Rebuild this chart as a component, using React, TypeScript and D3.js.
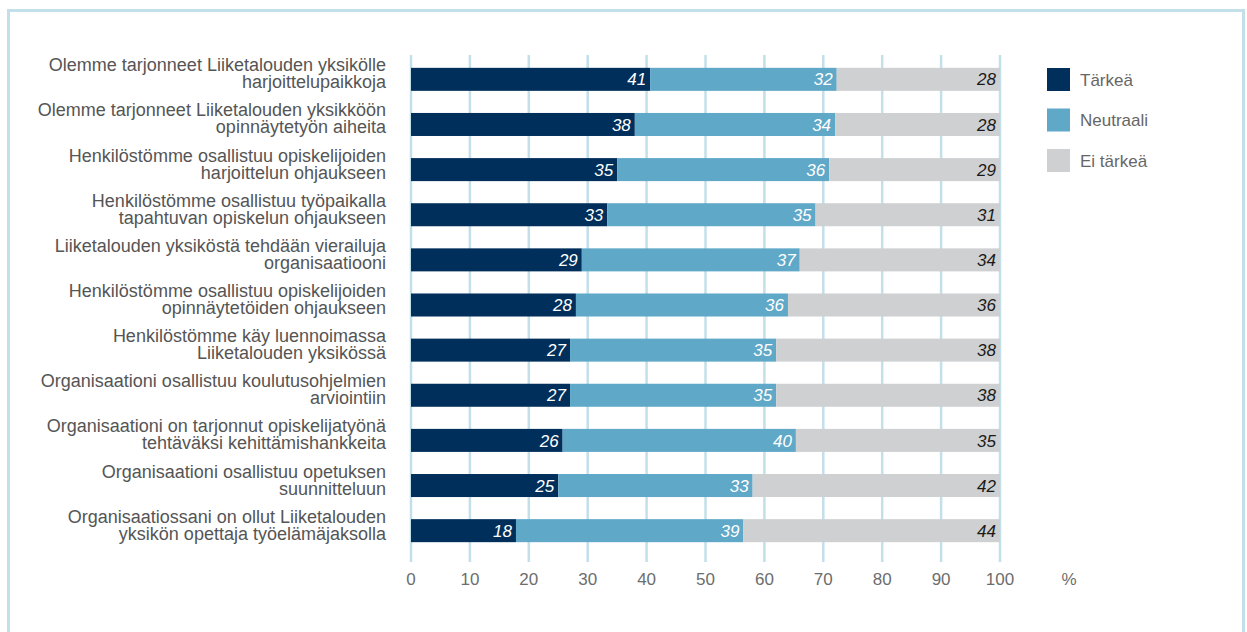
import React from "react";
import * as d3 from "d3";

const categories: string[][] = [
  ["Olemme tarjonneet Liiketalouden yksikölle", "harjoittelupaikkoja"],
  ["Olemme tarjonneet Liiketalouden yksikköön", "opinnäytetyön aiheita"],
  ["Henkilöstömme osallistuu opiskelijoiden", "harjoittelun ohjaukseen"],
  ["Henkilöstömme osallistuu työpaikalla", "tapahtuvan opiskelun ohjaukseen"],
  ["Liiketalouden yksiköstä tehdään vierailuja", "organisaatiooni"],
  ["Henkilöstömme osallistuu opiskelijoiden", "opinnäytetöiden ohjaukseen"],
  ["Henkilöstömme käy luennoimassa", "Liiketalouden yksikössä"],
  ["Organisaationi osallistuu koulutusohjelmien", "arviointiin"],
  ["Organisaationi on tarjonnut opiskelijatyönä", "tehtäväksi kehittämishankkeita"],
  ["Organisaationi osallistuu opetuksen", "suunnitteluun"],
  ["Organisaatiossani on ollut Liiketalouden", "yksikön opettaja työelämäjaksolla"],
];
const tarkea = [41, 38, 35, 33, 29, 28, 27, 27, 26, 25, 18];
const neutraali = [32, 34, 36, 35, 37, 36, 35, 35, 40, 33, 39];
const eiTarkea = [28, 28, 29, 31, 34, 36, 38, 38, 35, 42, 44];
const seriesNames = ["Tärkeä", "Neutraali", "Ei tärkeä"];
const seriesColors = ["#002f5b", "#5fa8c8", "#cfd0d2"];
const labelColors = ["#ffffff", "#ffffff", "#1a1a1a"];
const xTicks = [0, 10, 20, 30, 40, 50, 60, 70, 80, 90, 100];

const FONT = "'Liberation Sans', Arial, sans-serif";

export default function App() {
  const W = 1247, H = 632;
  const x = d3.scaleLinear().domain([0, 100]).range([411, 1000]);
  const y = d3.scaleBand<number>()
    .domain(d3.range(categories.length))
    .range([57, 553])
    .paddingInner(0.49)
    .paddingOuter(0.24);
  const series = [tarkea, neutraali, eiTarkea];
  const rows = categories.map((_, i) => {
    const vals = series.map((s) => s[i]);
    const total = d3.sum(vals);
    let acc = 0;
    return vals.map((v, k) => {
      const x0 = acc;
      acc += (v / total) * 100;
      return { k, v, x0, x1: acc };
    });
  });
  const bh = y.bandwidth();
  return (
    <svg width={W} height={H} style={{ position: "absolute", left: 0, top: 0, background: "#fff" }}>
      <rect x={8.5} y={10.5} width={1235} height={700} fill="none" stroke="#c3dfe9" strokeWidth={3} />
      {xTicks.map((t) => (
        <line key={"g" + t} x1={x(t)} x2={x(t)} y1={55} y2={562} stroke="#c3dfe9" strokeWidth={2.5} />
      ))}
      {rows.map((segs, i) => (
        <g key={"r" + i}>
          {segs.map((s) => (
            <rect key={s.k} x={x(s.x0)} y={y(i)!} width={x(s.x1) - x(s.x0)} height={bh} fill={seriesColors[s.k]} />
          ))}
          {segs.map((s) => (
            <text key={"t" + s.k} x={x(s.x1) - 4} y={y(i)! + bh / 2} dy="0.36em" textAnchor="end"
              fontFamily={FONT} fontStyle="italic" fontSize={17} fill={labelColors[s.k]}>
              {s.v}
            </text>
          ))}
          <text x={386} y={y(i)! + bh / 2 - 8} textAnchor="end" fontFamily={FONT} fontSize={18} fill="#555">
            <tspan x={386} dy="0">{categories[i][0]}</tspan>
            <tspan x={386} dy="17">{categories[i][1]}</tspan>
          </text>
        </g>
      ))}
      {xTicks.map((t) => (
        <text key={"l" + t} x={x(t)} y={585} textAnchor="middle" fontFamily={FONT} fontSize={17} fill="#6d6d6d">
          {t}
        </text>
      ))}
      <text x={1069} y={585} textAnchor="middle" fontFamily={FONT} fontSize={17} fill="#6d6d6d">%</text>
      {seriesNames.map((n, k) => (
        <g key={"lg" + k}>
          <rect x={1047} y={68 + k * 40.5} width={23} height={23} fill={seriesColors[k]} />
          <text x={1080} y={68 + k * 40.5 + 11.5} dy="0.36em" fontFamily={FONT} fontSize={17} fill="#666">{n}</text>
        </g>
      ))}
    </svg>
  );
}
